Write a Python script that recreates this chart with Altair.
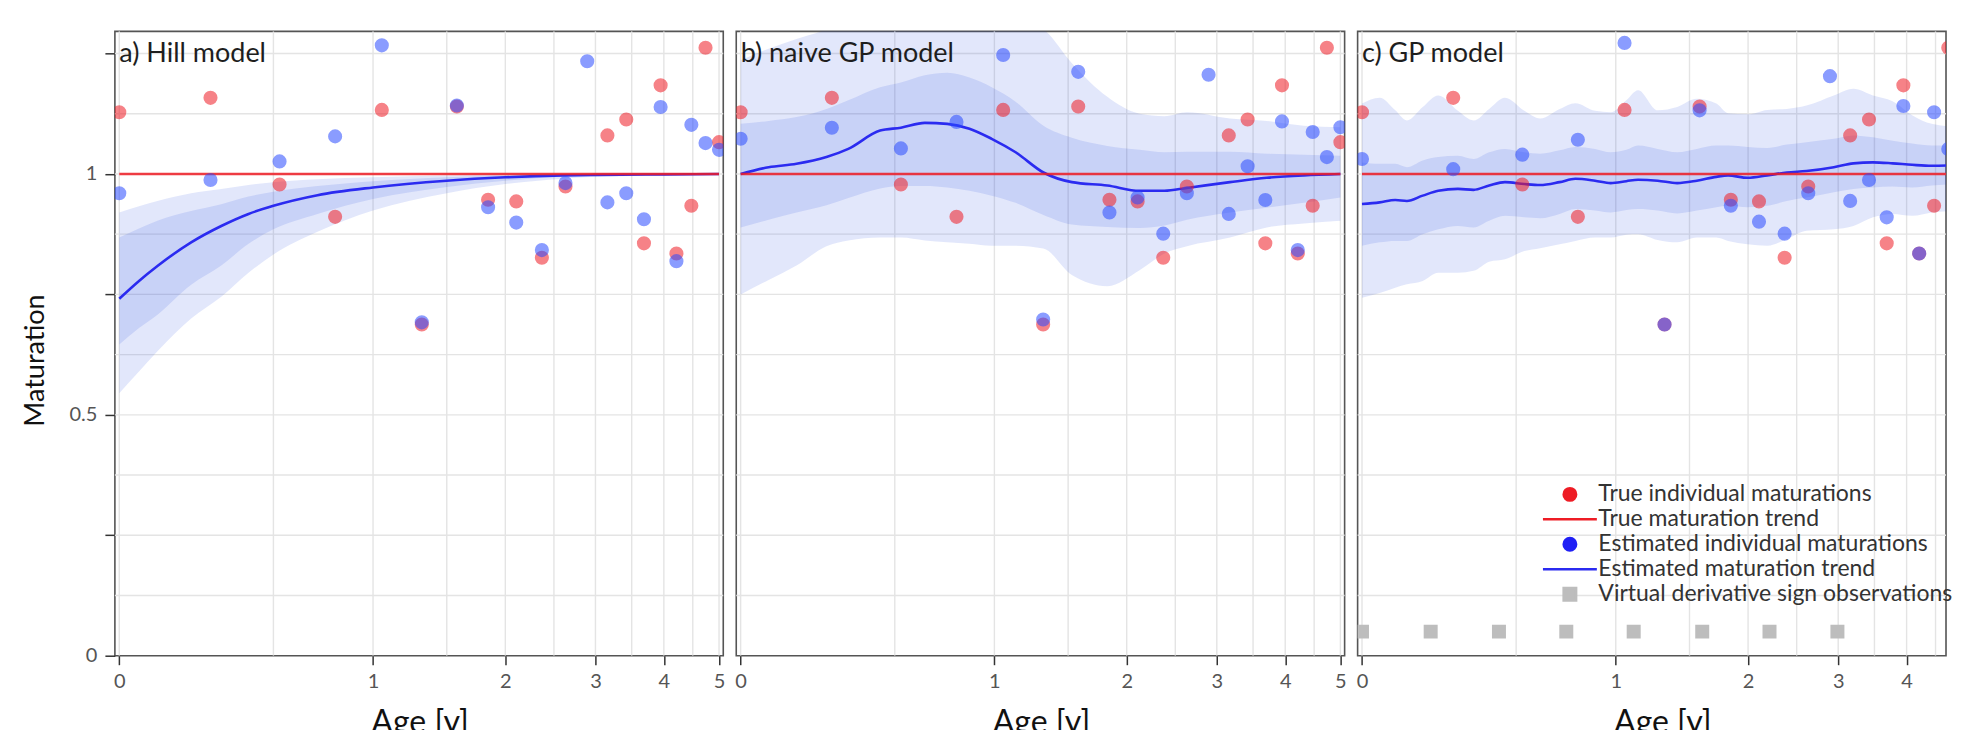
import altair as alt
import pandas as pd

FONT = "Lato"
RED = "#ee1c25"
BLUE_PT = "#2a4bff"
BLUE_LINE = "#2b2bf0"
BAND = "#0d37de"
GRID = "#e4e4e4"
GRAY_SQ = "#bdbdbd"

# ---------------- data ----------------
ages = [0.0, 0.263, 0.526, 0.789, 1.053, 1.316, 1.579, 1.842, 2.105, 2.368,
        2.632, 2.895, 3.158, 3.421, 3.684, 3.947, 4.211, 4.474, 4.737, 5.0]
true_mat = [1.128, 1.158, 0.978, 0.911, 1.133, 0.6875, 1.140, 0.9465, 0.943, 0.826,
            0.974, None, 1.080, 1.113, 0.856, 1.184, 0.835, 0.934, 1.262, 1.066]
est_hill = [0.960, 0.9875, 1.026, 1.078, 1.267, 0.692, 1.142, 0.931, 0.899, 0.842,
            0.981, 1.234, 0.941, 0.960, 0.906, 1.139, 0.819, 1.102, 1.064, 1.050]
est_naive = [1.073, 1.096, 1.053, 1.108, 1.247, 0.698, 1.212, 0.920, 0.951, 0.876,
             0.960, 1.206, 0.917, 1.016, 0.946, 1.109, 0.842, 1.087, 1.035, 1.097]
est_gp = [1.031, 1.010, 1.040, 1.071, 1.272, 0.6875, 1.132, 0.934, 0.901, 0.876,
          0.960, 1.203, 0.944, 0.9875, 0.910, 1.141, 0.835, 1.128, 1.052, 1.058]

trend_age = [0.0, 5.0]
trend_val = [1.0, 1.0]

# a) Hill model
hill_age = [0, 0.05, 0.1, 0.2, 0.3, 0.4, 0.5, 0.7, 1.0, 1.5, 2.0, 2.6, 3.0, 4.0, 5.0]
hill_mean = [0.741, 0.778, 0.809, 0.858, 0.892, 0.917, 0.934, 0.956, 0.972, 0.986, 0.993, 0.997, 0.998, 0.999, 1.0]
hill_ohi = [0.920, 0.933, 0.944, 0.960, 0.969, 0.977, 0.983, 0.989, 0.993, 0.997, 0.999, 1.0, 1.0, 1.0, 1.0]
hill_olo = [0.545, 0.590, 0.632, 0.700, 0.745, 0.795, 0.833, 0.880, 0.924, 0.960, 0.979, 0.990, 0.994, 0.997, 0.999]
hill_ihi = [0.868, 0.887, 0.903, 0.923, 0.937, 0.953, 0.963, 0.975, 0.985, 0.993, 0.997, 0.999, 0.999, 1.0, 1.0]
hill_ilo = [0.646, 0.680, 0.708, 0.770, 0.810, 0.855, 0.885, 0.917, 0.948, 0.973, 0.986, 0.994, 0.996, 0.998, 0.999]

# b) naive GP model
naive_age = [0, 0.072, 0.151, 0.245, 0.320, 0.440, 0.526, 0.633, 0.742, 0.858, 0.984,
             1.131, 1.318, 1.529, 1.823, 2.124, 2.381, 2.633, 3.175, 3.706, 4.315, 5.0]
naive_mean = [1.0, 1.014, 1.021, 1.035, 1.052, 1.09, 1.096, 1.106, 1.104, 1.094, 1.073,
              1.045, 1.003, 0.983, 0.976, 0.965, 0.965, 0.971, 0.983, 0.992, 0.997, 1.0]
naive_ohi = [1.236, 1.26, 1.28, 1.30, 1.32, 1.34, 1.35, 1.36, 1.36, 1.35, 1.33,
             1.32, 1.30, 1.23, 1.16, 1.125, 1.12, 1.128, 1.115, 1.11, 1.10, 1.097]
naive_olo = [0.75, 0.78, 0.81, 0.85, 0.862, 0.868, 0.868, 0.862, 0.858, 0.855, 0.851,
             0.851, 0.845, 0.79, 0.767, 0.80, 0.835, 0.85, 0.868, 0.889, 0.897, 0.903]
naive_ihi = [1.104, 1.11, 1.118, 1.135, 1.153, 1.18, 1.19, 1.205, 1.21, 1.20, 1.18,
             1.15, 1.10, 1.075, 1.058, 1.05, 1.045, 1.046, 1.046, 1.042, 1.04, 1.038]
naive_ilo = [0.889, 0.905, 0.92, 0.935, 0.95, 0.97, 0.975, 0.975, 0.972, 0.965, 0.955,
             0.94, 0.915, 0.895, 0.89, 0.888, 0.893, 0.905, 0.92, 0.93, 0.94, 0.951]

# c) GP model
gp_age = [0, 0.0445, 0.0864, 0.119, 0.1655, 0.214, 0.279, 0.334, 0.392, 0.454, 0.535, 0.605,
          0.697, 0.776, 0.881, 0.970, 1.064, 1.138, 1.268, 1.407, 1.557, 1.716, 1.818, 1.996,
          2.187, 2.392, 2.611, 2.944, 3.202, 3.478, 3.775, 4.091, 4.431, 5.0]
gp_mean = [0.9375, 0.941, 0.946, 0.944, 0.955, 0.965, 0.969, 0.967, 0.976, 0.983, 0.979, 0.977,
           0.983, 0.990, 0.986, 0.981, 0.985, 0.988, 0.986, 0.981, 0.986, 0.994, 0.997, 0.992,
           0.997, 1.003, 1.006, 1.014, 1.022, 1.024, 1.022, 1.019, 1.017, 1.019]
gp_ihi = [1.024, 1.021, 1.021, 1.014, 1.028, 1.035, 1.038, 1.031, 1.045, 1.052, 1.045, 1.042,
          1.049, 1.056, 1.052, 1.045, 1.050, 1.059, 1.052, 1.045, 1.052, 1.059, 1.059, 1.056,
          1.054, 1.061, 1.066, 1.073, 1.080, 1.076, 1.069, 1.063, 1.059, 1.059]
gp_ilo = [0.851, 0.858, 0.861, 0.861, 0.875, 0.885, 0.892, 0.889, 0.903, 0.913, 0.910, 0.908,
          0.917, 0.927, 0.924, 0.920, 0.925, 0.927, 0.924, 0.918, 0.924, 0.931, 0.934, 0.931,
          0.934, 0.944, 0.951, 0.962, 0.969, 0.972, 0.974, 0.972, 0.976, 0.979]
gp_ohi = [1.146, 1.158, 1.132, 1.111, 1.139, 1.163, 1.131, 1.111, 1.135, 1.158, 1.131, 1.115,
          1.135, 1.147, 1.131, 1.128, 1.153, 1.174, 1.132, 1.139, 1.156, 1.146, 1.126, 1.124,
          1.133, 1.135, 1.142, 1.163, 1.177, 1.163, 1.151, 1.122, 1.104, 1.097]
gp_olo = [0.743, 0.753, 0.764, 0.771, 0.778, 0.795, 0.795, 0.799, 0.818, 0.823, 0.840, 0.846,
          0.854, 0.861, 0.868, 0.868, 0.874, 0.875, 0.863, 0.858, 0.868, 0.868, 0.861, 0.854,
          0.851, 0.865, 0.882, 0.885, 0.892, 0.910, 0.917, 0.913, 0.920, 0.924]

deriv_age = [0.0, 0.19, 0.43, 0.73, 1.11, 1.60, 2.21, 2.99]
deriv_val = [0.05, 0.05, 0.05, 0.05, 0.05, 0.05, 0.05, 0.05]

grid_x = [0, 0.5, 1, 1.5, 2, 2.5, 3, 3.5, 4, 4.5, 5]
grid_y = [0.125, 0.25, 0.375, 0.5, 0.625, 0.75, 0.875, 1.0, 1.125, 1.25]
x_ticks = [0, 1, 2, 3, 4, 5]
y_ticks = [0, 0.25, 0.5, 0.75, 1, 1.25]

panel_titles = ["a) Hill model", "b) naive GP model", "c) GP model"]
legend_labels = ["True individual maturations", "True maturation trend",
                 "Estimated individual maturations", "Estimated maturation trend",
                 "Virtual derivative sign observations"]

# ---------------- scales / axes ----------------
W, H = 609, 625
W_C = 589  # third panel runs off the right edge of the page in the original
xs_full = alt.Scale(type="symlog", constant=0.7, domain=[-0.0108, 5.085], nice=False, zero=False)
xs_cut = alt.Scale(type="symlog", constant=0.7, domain=[-0.0108, 4.694], nice=False, zero=False)
ys = alt.Scale(domain=[0, 1.296], nice=False, zero=False)

xaxis = alt.Axis(values=x_ticks, format="d", grid=False, domain=False,
                 tickSize=9, tickWidth=1.5, tickColor="#333333",
                 labelFont=FONT, labelFontSize=20, labelColor="#555555", labelPadding=7,
                 labelFlush=False, title="Age [y]", titleFont=FONT, titleFontSize=32,
                 titleFontWeight="normal", titleColor="#111111", titlePadding=16, titleX=305)
yaxis_a = alt.Axis(values=y_ticks,
                   labelExpr="datum.value == 0 ? '0' : (datum.value == 0.5 ? '0.5' : (datum.value == 1 ? '1' : ''))",
                   grid=False, domain=False, tickSize=10, tickWidth=1.5, tickColor="#333333",
                   labelFont=FONT, labelFontSize=20, labelColor="#555555", labelPadding=8,
                   title="Maturation", titleFont=FONT, titleFontSize=27, titleFontWeight="normal",
                   titleColor="#111111", titlePadding=20, titleY=329)


def panel(idx, c_age, c_mean, c_olo, c_ohi, c_ilo, c_ihi, est, xs, width, extra=None):
    yax = yaxis_a if idx == 0 else None

    def X(f):
        return alt.X(f, type="quantitative", scale=xs, axis=xaxis)

    def Y(f):
        return alt.Y(f, type="quantitative", scale=ys, axis=yax)

    curve = pd.DataFrame({"age": c_age, "mean": c_mean, "olo": c_olo, "ohi": c_ohi,
                          "ilo": c_ilo, "ihi": c_ihi})
    pts_true = pd.DataFrame({"age": ages, "val": true_mat}).dropna()
    pts_est = pd.DataFrame({"age": ages, "val": est})
    trend = pd.DataFrame({"age": trend_age, "val": trend_val})
    lab = pd.DataFrame({"age": [0.0], "val": [1.25], "label": [panel_titles[idx]]})

    vgrid = alt.Chart(pd.DataFrame({"gx": grid_x})).mark_rule(color=GRID, strokeWidth=1.4, clip=True).encode(x=X("gx"))
    hgrid = alt.Chart(pd.DataFrame({"gy": grid_y})).mark_rule(color=GRID, strokeWidth=1.4).encode(y=Y("gy"))
    outer = alt.Chart(curve).mark_area(color=BAND, opacity=0.12, clip=True, interpolate="monotone").encode(
        x=X("age"), y=Y("olo"), y2="ohi")
    inner = alt.Chart(curve).mark_area(color=BAND, opacity=0.12, clip=True, interpolate="monotone").encode(
        x=X("age"), y=Y("ilo"), y2="ihi")
    mline = alt.Chart(curve).mark_line(color=BLUE_LINE, strokeWidth=2.6, clip=True, interpolate="monotone").encode(
        x=X("age"), y=Y("mean"))
    tline = alt.Chart(trend).mark_line(color=RED, strokeWidth=2.6, opacity=0.85, clip=True).encode(
        x=X("age"), y=Y("val"))
    rpts = alt.Chart(pts_true).mark_circle(color=RED, size=200, opacity=0.55, clip=True).encode(
        x=X("age"), y=Y("val"))
    bpts = alt.Chart(pts_est).mark_circle(color=BLUE_PT, size=200, opacity=0.55, clip=True).encode(
        x=X("age"), y=Y("val"))
    text = alt.Chart(lab).mark_text(align="left", baseline="middle", font=FONT, fontSize=27,
                                    color="#1e1e1e").encode(x=X("age"), y=Y("val"), text="label:N")
    layers = [vgrid, hgrid, outer, inner, mline, tline, rpts, bpts, text]
    if extra is not None:
        layers += extra(X, Y)
    return alt.layer(*layers).properties(width=width, height=H)


def gp_extra(X, Y):
    sq = alt.Chart(pd.DataFrame({"age": deriv_age, "val": deriv_val})).mark_square(
        color=GRAY_SQ, size=196, opacity=1, clip=True).encode(x=X("age"), y=Y("val"))
    leg = alt.Legend(orient="none", legendX=1445, legendY=452, title=None, padding=0,
                     labelFont=FONT, labelFontSize=23, labelColor="#333333", labelLimit=600,
                     symbolSize=156, symbolStrokeWidth=2.5, rowPadding=1, labelOffset=17)
    line_path = "M-4.32,0H4.32"
    fill_sc = alt.Scale(domain=legend_labels, range=[RED, RED, "#2020f5", BLUE_LINE, GRAY_SQ])
    shape_sc = alt.Scale(domain=legend_labels, range=["circle", line_path, "circle", line_path, "square"])
    ldf = pd.DataFrame({"age": [-1.0] * 5, "val": [-1.0] * 5, "series": legend_labels})
    legend_layer = alt.Chart(ldf).mark_point(filled=True, opacity=1, size=156, clip=True).encode(
        x=X("age"), y=Y("val"),
        fill=alt.Fill("series:N", scale=fill_sc, legend=leg),
        stroke=alt.Stroke("series:N", scale=fill_sc, legend=leg),
        shape=alt.Shape("series:N", scale=shape_sc, legend=leg),
    )
    return [sq, legend_layer]


pa = panel(0, hill_age, hill_mean, hill_olo, hill_ohi, hill_ilo, hill_ihi, est_hill, xs_full, W)
pb = panel(1, naive_age, naive_mean, naive_olo, naive_ohi, naive_ilo, naive_ihi, est_naive, xs_full, W)
pc = panel(2, gp_age, gp_mean, gp_olo, gp_ohi, gp_ilo, gp_ihi, est_gp, xs_cut, W_C, extra=gp_extra)

chart = alt.hconcat(pa, pb, pc, spacing=13, bounds="flush").properties(
    padding={"left": 12, "top": 22, "right": 0, "bottom": 0}
).configure(font=FONT).configure_view(stroke="#555555", strokeWidth=1.6)

chart.save("out.html", embed_options={"renderer": "svg", "actions": False})
